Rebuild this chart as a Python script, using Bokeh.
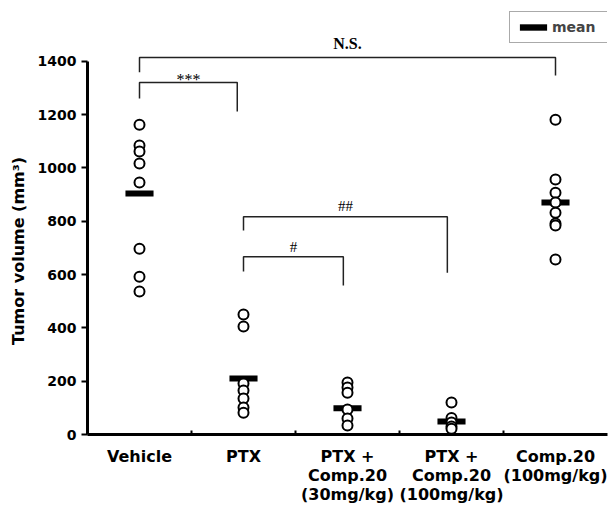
from bokeh.plotting import figure
from bokeh.models import (Range1d, FixedTicker, ColumnDataSource, Legend, LegendItem)
from bokeh.core.properties import value
from bokeh.embed import file_html
from bokeh.resources import INLINE

# ---- data ----
groups = ["Vehicle", "PTX", "PTX +\nComp.20\n(30mg/kg)", "PTX +\nComp.20\n(100mg/kg)", "Comp.20\n(100mg/kg)"]
vehicle = [1162, 1084, 1061, 1016, 945, 697, 592, 536]
ptx = [450, 405, 191, 165, 135, 101, 82]
ptx_comp30 = [195, 176, 157, 94, 60, 34]
ptx_comp100 = [120, 62, 45, 30, 22]
comp100 = [1180, 956, 907, 870, 832, 791, 784, 656]
means = [904, 210, 98, 49, 870]
y_ticks = [0, 200, 400, 600, 800, 1000, 1200, 1400]
y_title = "Tumor volume (mm³)"

# significance brackets: (left group, right group, top, left end, right end, label)
brackets = [
    (0, 4, 1414, 1358, 1346, "N.S."),
    (0, 0.94, 1320, 1260, 1211, "***"),
    (1, 2.96, 817, 765, 607, "##"),
    (1, 1.96, 667, 611, 559, "#"),
]
bracket_label_gap = [14, 3, 11, 10]
bracket_label_size = ["16px", "16px", "15px", "15px"]
bracket_label_style = ["bold", "normal", "normal", "normal"]

series = [vehicle, ptx, ptx_comp30, ptx_comp100, comp100]
centers = [i + 0.5 for i in range(len(groups))]

SANS = "DejaVu Sans"
SERIF = "Liberation Serif"

p = figure(width=614, height=510, output_backend="svg", toolbar_location=None,
           x_range=Range1d(0, 5), y_range=Range1d(0, 1627.5),
           min_border_left=87, min_border_right=7, min_border_top=0, min_border_bottom=76)
p.outline_line_color = None
p.xgrid.visible = False
p.ygrid.visible = False
p.background_fill_color = "white"

# axes
xa = p.xaxis[0]
xa.ticker = FixedTicker(ticks=centers, minor_ticks=[1, 2, 3, 4])
xa.major_label_overrides = {c: g for c, g in zip(centers, groups)}
xa.bounds = (0, 5)
xa.axis_line_width = 3
xa.axis_line_color = "black"
xa.major_tick_in = 0
xa.major_tick_out = 0
xa.minor_tick_in = 4
xa.minor_tick_out = 0
xa.minor_tick_line_width = 2
xa.major_label_text_font = SANS
xa.major_label_text_font_style = "bold"
xa.major_label_text_font_size = "16px"
xa.major_label_text_line_height = 1.0
xa.major_label_text_color = "black"
xa.major_label_standoff = 12

ya = p.yaxis[0]
ya.ticker = FixedTicker(ticks=y_ticks, minor_ticks=[])
ya.bounds = (0, 1400)
ya.axis_line_width = 3
ya.axis_line_color = "black"
ya.major_tick_in = 0
ya.major_tick_out = 6
ya.major_tick_line_width = 2
ya.minor_tick_in = 0
ya.minor_tick_out = 0
ya.major_label_text_font = SANS
ya.major_label_text_font_style = "bold"
ya.major_label_text_font_size = "14px"
ya.major_label_text_color = "black"
ya.major_label_standoff = 5
ya.axis_label = y_title + "\u00a0" * 12
ya.axis_label_text_font = SANS
ya.axis_label_text_font_style = "bold"
ya.axis_label_text_font_size = "16px"
ya.axis_label_text_color = "black"
ya.axis_label_standoff = 7

# brackets
bx, by = [], []
lx, ly, lt = [], [], []
for (a, b, top, le, re, lab) in brackets:
    xl = a + 0.5
    xr = b + 0.5
    bx.append([xl, xl, xr, xr])
    by.append([le, top, top, re])
    lx.append((xl + xr) / 2)
    ly.append(top)
    lt.append(lab)
p.multi_line(bx, by, line_color="#222222", line_width=1.5)
lab_src = ColumnDataSource(dict(x=lx, y=ly, t=lt, off=[-g for g in bracket_label_gap],
                                fs=bracket_label_size, st=bracket_label_style))
p.text(x="x", y="y", text="t", y_offset="off", source=lab_src, text_font=value(SERIF),
       text_font_size="fs", text_font_style="st", text_align="center",
       text_baseline="alphabetic", text_color="black")

# mean bars
mean_r = p.rect(x=centers, y=means, width=0.27, height=6, height_units="screen",
                fill_color="black", line_color=None)

# points
px, py = [], []
for c, vals in zip(centers, series):
    for v in vals:
        px.append(c)
        py.append(v)
p.scatter(px, py, marker="circle", size=10, fill_color="white", line_color="black", line_width=2)

# legend
legend = Legend(items=[LegendItem(label="mean", renderers=[mean_r])],
                location=(422, 391), padding=6, margin=0, label_height=18,
                label_width=50, glyph_width=34, glyph_height=8, label_standoff=2,
                label_text_font=SANS, label_text_font_style="bold",
                label_text_font_size="14px", border_line_color="#555555",
                border_line_width=1, background_fill_color="white", background_fill_alpha=1)
p.add_layout(legend, "center")

open("out.html", "w").write(file_html(p, INLINE))
